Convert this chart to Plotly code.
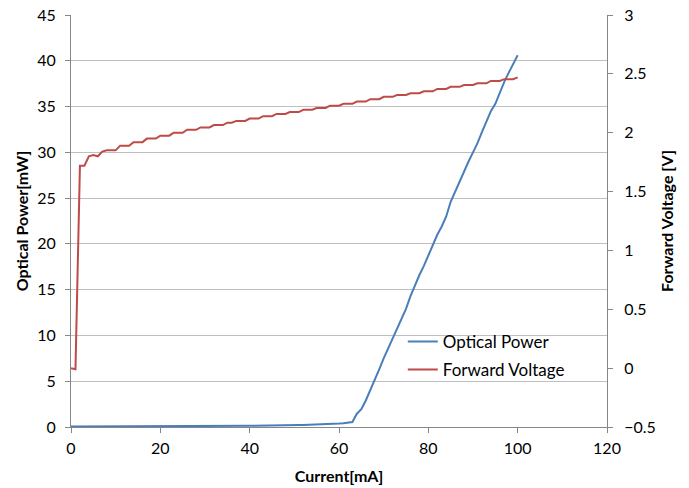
import plotly.graph_objects as go

current_ma = list(range(0, 101))

optical_power_mw = [
    0.05, 0.05, 0.05, 0.05, 0.05, 0.05, 0.05, 0.05, 0.05, 0.05,
    0.06, 0.06, 0.06, 0.06, 0.06, 0.07, 0.07, 0.07, 0.07, 0.07,
    0.08, 0.08, 0.08, 0.08, 0.09, 0.09, 0.09, 0.09, 0.10, 0.10,
    0.10, 0.10, 0.11, 0.11, 0.11, 0.12, 0.12, 0.12, 0.13, 0.13,
    0.13, 0.14, 0.14, 0.15, 0.15, 0.16, 0.16, 0.17, 0.18, 0.19,
    0.20, 0.22, 0.23, 0.24, 0.26, 0.27, 0.29, 0.31, 0.32, 0.35,
    0.37, 0.42, 0.47, 0.55, 1.45, 1.95, 2.9, 4.0, 5.2, 6.3,
    7.5, 8.6, 9.7, 10.8, 11.9, 12.9, 14.3, 15.5, 16.6, 17.6,
    18.8, 19.9, 21.0, 21.9, 23.0, 24.6, 25.7, 26.8, 28.0, 29.0,
    30.0, 31.0, 32.2, 33.4, 34.5, 35.3, 36.6, 37.7, 38.7, 39.6,
    40.6,
]

forward_voltage_v = [
    0.00, -0.01, 1.72, 1.72, 1.80, 1.81, 1.80, 1.84, 1.85, 1.85,
    1.85, 1.89, 1.89, 1.89, 1.92, 1.92, 1.92, 1.95, 1.95, 1.95,
    1.975, 1.975, 1.975, 2.00, 2.00, 2.00, 2.025, 2.025, 2.025, 2.045,
    2.045, 2.045, 2.065, 2.065, 2.065, 2.085, 2.085, 2.10, 2.10, 2.10,
    2.12, 2.12, 2.12, 2.14, 2.14, 2.14, 2.16, 2.16, 2.16, 2.175,
    2.175, 2.175, 2.195, 2.195, 2.195, 2.21, 2.21, 2.21, 2.23, 2.23,
    2.23, 2.245, 2.245, 2.245, 2.265, 2.265, 2.265, 2.285, 2.285, 2.285,
    2.305, 2.305, 2.305, 2.32, 2.32, 2.32, 2.335, 2.335, 2.335, 2.352,
    2.352, 2.352, 2.372, 2.372, 2.372, 2.39, 2.39, 2.39, 2.405, 2.405,
    2.405, 2.42, 2.42, 2.42, 2.44, 2.44, 2.44, 2.455, 2.455, 2.455,
    2.47,
]

FONT = "Lato"
AXIS_GRAY = "#868686"
GRID_GRAY = "#BFBFBF"

fig = go.Figure()
fig.add_trace(go.Scatter(
    x=current_ma, y=optical_power_mw, name="Optical Power", mode="lines",
    line=dict(color="#4A7EBB", width=2), yaxis="y", legend="legend",
))
fig.add_trace(go.Scatter(
    x=current_ma, y=forward_voltage_v, name="Forward Voltage", mode="lines",
    line=dict(color="#BE4B48", width=2), yaxis="y2", legend="legend2",
))

legend_common = dict(
    xanchor="left", yanchor="top", bgcolor="rgba(0,0,0,0)",
    font=dict(family=FONT, size=17), itemwidth=30,
)

fig.update_layout(
    width=689, height=488,
    margin=dict(l=71, r=82, t=15, b=61, autoexpand=False),
    paper_bgcolor="white", plot_bgcolor="white",
    font=dict(family=FONT, size=16, color="#000000"),
    showlegend=True,
    legend=dict(x=0.619, y=0.25, **legend_common),
    legend2=dict(x=0.619, y=0.182, **legend_common),
    xaxis=dict(
        range=[0, 120], dtick=20, tick0=0, automargin=False,
        showgrid=False, zeroline=False,
        showline=True, linecolor=AXIS_GRAY, linewidth=1,
        ticks="outside", ticklen=5, tickcolor=AXIS_GRAY,
        ticklabelstandoff=2,
        tickfont=dict(family=FONT, size=16),
        title=dict(text="<b>Current[mA]</b>", font=dict(family=FONT, size=16), standoff=14),
    ),
    yaxis=dict(
        range=[0, 45], dtick=5, tick0=0, automargin=False,
        showgrid=True, gridcolor=GRID_GRAY, gridwidth=1,
        zeroline=False,
        showline=True, linecolor=AXIS_GRAY, linewidth=1,
        ticks="outside", ticklen=5, tickcolor=AXIS_GRAY,
        ticklabelstandoff=6,
        tickfont=dict(family=FONT, size=16),
        title=dict(text="<b>Optical Power[mW]</b>", font=dict(family=FONT, size=16), standoff=4),
    ),
    yaxis2=dict(
        range=[-0.5, 3], dtick=0.5, tick0=-0.5, automargin=False,
        overlaying="y", side="right",
        showgrid=False, zeroline=False,
        showline=True, linecolor=AXIS_GRAY, linewidth=1,
        ticks="outside", ticklen=5, tickcolor=AXIS_GRAY,
        ticklabelstandoff=8,
        tickfont=dict(family=FONT, size=16),
        title=dict(text="<b>Forward Voltage [V]</b>", font=dict(family=FONT, size=16), standoff=6),
    ),
)

fig.write_html(
    "out.html",
    config={"displayModeBar": False},
    post_script="document.body.style.margin='0px';",
)
